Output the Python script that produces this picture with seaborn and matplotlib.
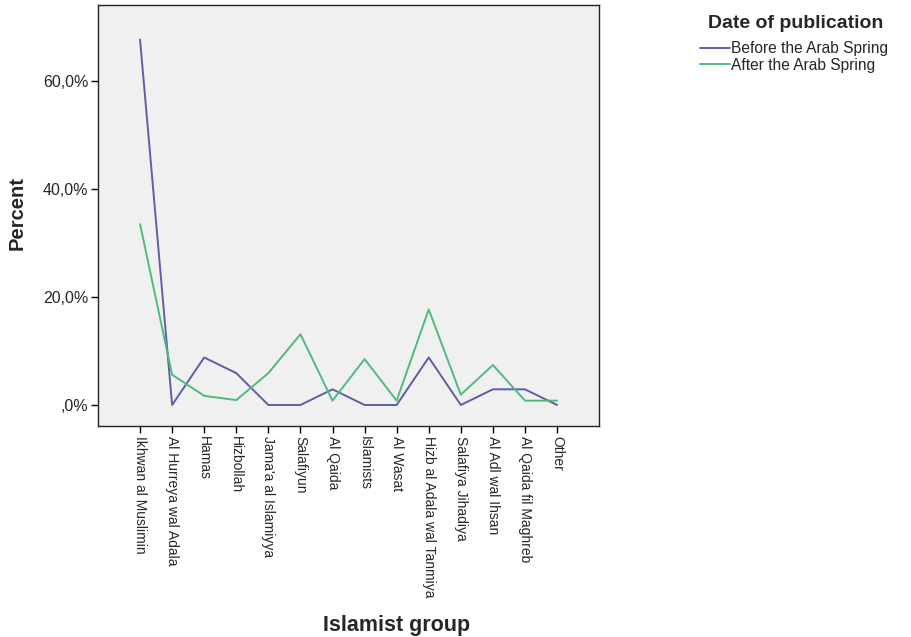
import matplotlib
matplotlib.use("Agg")
import matplotlib.pyplot as plt
import seaborn as sns
import pandas as pd
from matplotlib.ticker import FuncFormatter

# Islamist groups mentioned (x axis order)
groups = ["Ikhwan al Muslimin", "Al Hurreya wal Adala", "Hamas", "Hizbollah",
          "Jama'a al Islamiyya", "Salafiyun", "Al Qaida", "Islamists", "Al Wasat",
          "Hizb al Adala wal Tanmiya", "Salafiya Jihadiya", "Al Adl wal Ihsan",
          "Al Qaida fil Maghreb", "Other"]

# percent of articles per period
before_spring = [67.7, 0.0, 8.8, 5.9, 0.0, 0.0, 2.9, 0.0, 0.0, 8.8, 0.0, 2.9, 2.9, 0.0]
after_spring = [33.5, 5.6, 1.7, 0.9, 5.9, 13.1, 0.8, 8.5, 0.8, 17.7, 1.9, 7.4, 0.8, 0.8]

periods = ["Before the Arab Spring", "After the Arab Spring"]
colors = ["#5d5ea8", "#4fba80"]

df = pd.DataFrame({
    "Islamist group": groups * 2,
    "Percent": before_spring + after_spring,
    "Date of publication": [periods[0]] * len(groups) + [periods[1]] * len(groups),
})

sns.set_style("white")
plt.rcParams["font.family"] = ["Liberation Sans", "DejaVu Sans"]

fig = plt.figure(figsize=(9.11, 6.37), dpi=100)
ax = fig.add_axes([0.1076, 0.3312, 0.55, 0.661])
ax.set_facecolor("#f0f0f0")

sns.lineplot(data=df, x="Islamist group", y="Percent", hue="Date of publication",
             hue_order=periods, palette=colors, sort=False, linewidth=1.4, ax=ax)

ax.set_xlim(-1.31, len(groups) - 1 + 1.31)
ax.set_ylim(-3.9, 74.1)
ax.set_yticks([0, 20, 40, 60])
ax.yaxis.set_major_formatter(FuncFormatter(
    lambda v, p: ",0%" if v == 0 else f"{v:.1f}%".replace(".", ",")))

ax.set_xticks(range(len(groups)))
ax.set_xticklabels(groups, rotation=270, fontsize=10)
ax.tick_params(axis="y", labelsize=11.5)
ax.tick_params(axis="both", direction="out", length=5, width=1, color="black",
               bottom=True, left=True, pad=2)

for s in ax.spines.values():
    s.set_color("#222222")
    s.set_linewidth(1)

# axis titles placed in figure coordinates
ax.set_xlabel("")
ax.set_ylabel("")
fig.text(397 / 911, 1 - 625 / 637, "Islamist group", fontsize=15.5, fontweight="bold",
         ha="center", va="center")
fig.text(17 / 911, 1 - 213 / 637, "Percent", fontsize=14.5, fontweight="bold",
         ha="center", va="center", rotation=90)

# legend: title drawn separately so the gap can match
ax.get_legend().remove()
handles, labels = ax.get_legend_handles_labels()
fig.legend(handles, labels, loc="upper left", bbox_to_anchor=(700 / 911, 1 - 41 / 637),
           frameon=False, fontsize=11.2, handlelength=1.9, handletextpad=0.08,
           labelspacing=0.12, borderpad=0, borderaxespad=0)
fig.text(708 / 911, 1 - 23 / 637, "Date of publication", fontsize=14,
         fontweight="bold", ha="left", va="center")

fig.savefig("out.png", dpi=100, facecolor="white")
